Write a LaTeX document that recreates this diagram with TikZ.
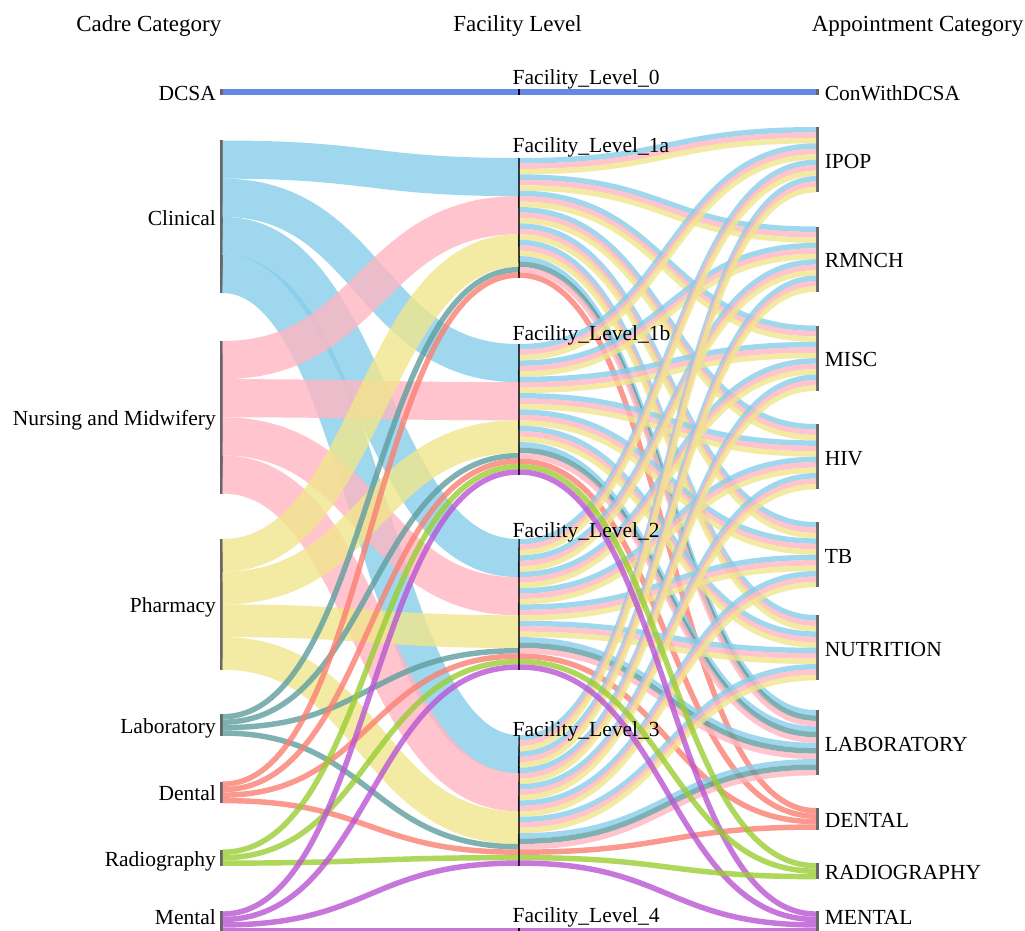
\documentclass[tikz,border=0pt]{standalone}
\usepackage{fontspec}
\setmainfont{Liberation Serif}
\usetikzlibrary{calc}

\definecolor{clinC}{RGB}{135,206,235}
\definecolor{nursC}{RGB}{255,182,193}
\definecolor{pharmC}{RGB}{240,230,140}
\definecolor{labC}{RGB}{95,158,160}
\definecolor{dentC}{RGB}{250,128,114}
\definecolor{radC}{RGB}{154,205,50}
\definecolor{mentC}{RGB}{186,85,211}
\definecolor{dcsaC}{RGB}{65,105,225}

% width of one flow unit
\newcommand\sw{5.45}
% a bar node: style, name, x, top, units
\newcommand\skbar[5]{%
  \node[#1, minimum height=#5*\sw pt, anchor=north] (#2) at (#3,#4) {};
  \expandafter\xdef\csname so@#2\endcsname{0}%
  \expandafter\xdef\csname si@#2\endcsname{0}}
% a flow: source, target, style, units
\newcommand\sklink[4]{%
  \pgfmathsetmacro\skA{\csname so@#1\endcsname}%
  \pgfmathsetmacro\skB{\csname si@#2\endcsname}%
  \pgfmathsetmacro\skW{#4*\sw}%
  \draw[flow, #3, line width=\skW pt]
    ($(#1.north east)+(0,\skA+\skW/2)$) .. controls +(148,0) and +(-148,0) .. ($(#2.north west)+(0,\skB+\skW/2)$);
  \pgfmathparse{\skA+\skW}\expandafter\xdef\csname so@#1\endcsname{\pgfmathresult}%
  \pgfmathparse{\skB+\skW}\expandafter\xdef\csname si@#2\endcsname{\pgfmathresult}}

\begin{document}
\begin{tikzpicture}[x=1pt, y=-1pt,
  bar/.style={fill=black!60, inner sep=0pt, outer sep=0pt, minimum width=2.5pt},
  midbar/.style={fill=black, inner sep=0pt, outer sep=0pt, minimum width=1.4pt},
  lbl/.style={inner sep=0pt, font=\fontsize{21.5}{24}\selectfont},
  head/.style={inner sep=0pt, font=\fontsize{23}{26}\selectfont},
  leftlbl/.style={label={[lbl, anchor=base east, xshift=-4pt, yshift=-8.5pt]left:#1}},
  rightlbl/.style={label={[lbl, anchor=base west, xshift=6pt, yshift=-8.5pt]right:#1}},
  lowleftlbl/.style={label={[lbl, anchor=base east, xshift=-4pt, yshift=-2.5pt]left:#1}},
  lowrightlbl/.style={label={[lbl, anchor=base west, xshift=6pt, yshift=-2.5pt]right:#1}},
  flow/.style={draw opacity=0.8},
  clin/.style={draw=clinC}, nurs/.style={draw=nursC}, pharm/.style={draw=pharmC},
  lab/.style={draw=labC}, dent/.style={draw=dentC}, rad/.style={draw=radC},
  ment/.style={draw=mentC}, dcsa/.style={draw=dcsaC}]
  \path[fill=white, use as bounding box] (0,0) rectangle (1025,931);

  % column titles
  \node[head, anchor=base east] (h1) at (221.5,32) {Cadre Category};
  \node[head, anchor=base] (h2) at (517.5,32) {Facility Level};
  \node[head, anchor=base east] (h3) at (1023.5,32) {Appointment Category};

  % cadre bars
  \skbar{bar, leftlbl=DCSA}{DCSA}{221.3}{89.3}{1}
  \skbar{bar, leftlbl=Clinical}{Clin}{221.3}{140.5}{28}
  \skbar{bar, leftlbl=Nursing and Midwifery}{Nurs}{221.3}{341}{28}
  \skbar{bar, leftlbl=Pharmacy}{Pharm}{221.3}{539}{24}
  \skbar{bar, leftlbl=Laboratory}{Lab}{221.3}{714}{4}
  \skbar{bar, leftlbl=Dental}{Dent}{221.3}{781.5}{4}
  \skbar{bar, leftlbl=Radiography}{Radio}{221.3}{849.5}{3}
  \skbar{bar, lowleftlbl=Mental}{Ment}{221.3}{911.3}{4}

  % facility bars
  \skbar{midbar}{L0}{519}{89.3}{1}
  \skbar{midbar}{L1a}{519}{158}{22}
  \skbar{midbar}{L1b}{519}{344}{24}
  \skbar{midbar}{L2}{519}{539}{24}
  \skbar{midbar}{L3}{519}{735}{24}
  \skbar{midbar}{L4}{519}{927.65}{1}

  % appointment bars
  \skbar{bar, rightlbl=ConWithDCSA}{Con}{817.3}{89.3}{1}
  \skbar{bar, rightlbl=IPOP}{IPOP}{817.3}{127}{12}
  \skbar{bar, rightlbl=RMNCH}{RMNCH}{817.3}{226.5}{12}
  \skbar{bar, rightlbl=MISC}{MISC}{817.3}{325.5}{12}
  \skbar{bar, rightlbl=HIV}{HIV}{817.3}{424}{12}
  \skbar{bar, rightlbl=TB}{TB}{817.3}{522}{12}
  \skbar{bar, rightlbl=NUTRITION}{NUTR}{817.3}{615}{12}
  \skbar{bar, rightlbl=LABORATORY}{LABR}{817.3}{710}{12}
  \skbar{bar, rightlbl=DENTAL}{DENT}{817.3}{808}{4}
  \skbar{bar, rightlbl=RADIOGRAPHY}{RADR}{817.3}{863}{3}
  \skbar{bar, lowrightlbl=MENTAL}{MENT}{817.3}{911.3}{4}

  % cadre -> facility
  \sklink{DCSA}{L0}{dcsa}{1}
  \foreach \lv in {L1a,L1b,L2,L3}{\sklink{Clin}{\lv}{clin}{7}}
  \foreach \lv in {L1a,L1b,L2,L3}{\sklink{Nurs}{\lv}{nurs}{7}}
  \foreach \lv in {L1a,L1b,L2,L3}{\sklink{Pharm}{\lv}{pharm}{6}}
  \foreach \lv in {L1a,L1b,L2,L3}{\sklink{Lab}{\lv}{lab}{1}}
  \foreach \lv in {L1a,L1b,L2,L3}{\sklink{Dent}{\lv}{dent}{1}}
  \foreach \lv in {L1b,L2,L3}{\sklink{Radio}{\lv}{rad}{1}}
  \foreach \lv in {L1b,L2,L3,L4}{\sklink{Ment}{\lv}{ment}{1}}

  % facility -> appointment
  \sklink{L0}{Con}{dcsa}{1}
  \foreach \lv in {L1a,L1b,L2,L3}{
    \foreach \ap in {IPOP,RMNCH,MISC,HIV,TB,NUTR}{
      \sklink{\lv}{\ap}{clin}{1}
      \sklink{\lv}{\ap}{nurs}{1}
      \sklink{\lv}{\ap}{pharm}{1}
    }
    \sklink{\lv}{LABR}{clin}{1}
    \sklink{\lv}{LABR}{lab}{1}
    \sklink{\lv}{LABR}{nurs}{1}
    \sklink{\lv}{DENT}{dent}{1}
  }
  \foreach \lv in {L1b,L2,L3}{
    \sklink{\lv}{RADR}{rad}{1}
    \sklink{\lv}{MENT}{ment}{1}
  }
  \sklink{L4}{MENT}{ment}{1}

  % facility labels
  \node[lbl, anchor=base west] (t0) at (512.5,85) {Facility\_Level\_0};
  \node[lbl, anchor=base west] (t1a) at (512.5,153) {Facility\_Level\_1a};
  \node[lbl, anchor=base west] (t1b) at (512.5,340) {Facility\_Level\_1b};
  \node[lbl, anchor=base west] (t2) at (512.5,537) {Facility\_Level\_2};
  \node[lbl, anchor=base west] (t3) at (512.5,736) {Facility\_Level\_3};
  \node[lbl, anchor=base west] (t4) at (512.5,922) {Facility\_Level\_4};
\end{tikzpicture}
\end{document}
